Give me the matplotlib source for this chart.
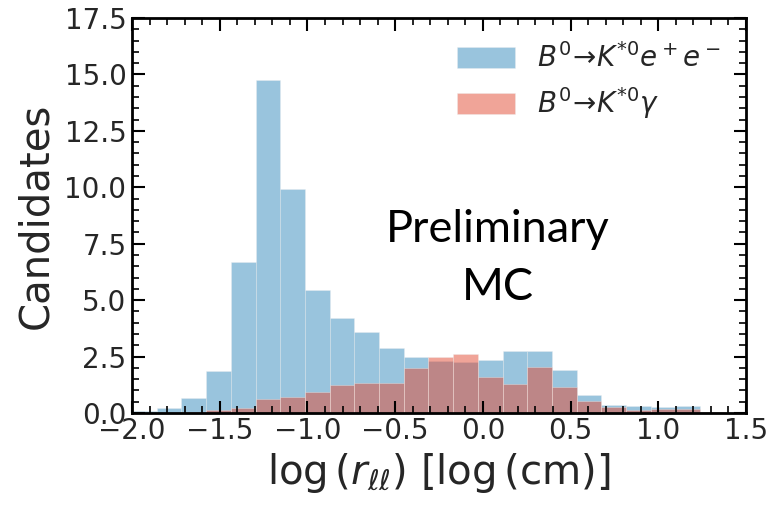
import matplotlib as mpl
import matplotlib.pyplot as plt
import numpy as np
from matplotlib.ticker import MultipleLocator

BLUE = '#348ABD'
RED = '#E24A33'
TEXT = '#262626'

# shared binning for both samples
edges = np.linspace(-2.0, 1.38, 25)
centers = 0.5 * (edges[:-1] + edges[1:])

ee_counts = [0.08, 0.20, 0.65, 1.85, 6.70, 14.77, 9.91, 5.46, 4.20, 3.60,
             2.87, 2.50, 2.30, 2.28, 2.35, 2.76, 2.76, 1.90, 0.80, 0.34,
             0.31, 0.25, 0.31, 0.05]
gamma_counts = [0.0, 0.0, 0.04, 0.13, 0.22, 0.62, 0.72, 0.93, 1.25, 1.31,
                1.31, 2.01, 2.50, 2.60, 1.58, 1.28, 2.05, 1.14, 0.55, 0.28,
                0.12, 0.16, 0.19, 0.05]

mpl.rcParams.update({
    "font.family": "DejaVu Sans",
    "mathtext.fontset": "dejavusans",
    "xtick.direction": "in",
    "ytick.direction": "in",
    "xtick.top": True,
    "ytick.right": True,
    "xtick.labelsize": 20,
    "ytick.labelsize": 20,
    "xtick.color": "black",
    "ytick.color": "black",
    "xtick.labelcolor": TEXT,
    "ytick.labelcolor": TEXT,
})

fig = plt.figure(figsize=(7.69, 5.05), dpi=100)
ax = fig.add_axes([0.1717, 0.1822, 0.7983, 0.7822])

hist_kw = dict(bins=edges, histtype='bar', alpha=0.5, edgecolor='#EEEEEE',
               linewidth=0.5, rwidth=1.0)
ax.hist(centers, weights=ee_counts, color=BLUE,
        label=r'$B^0\!\rightarrow\!K^{*0}e^+e^-$', **hist_kw)
ax.hist(centers, weights=gamma_counts, color=RED,
        label=r'$B^0\!\rightarrow\!K^{*0}\gamma$', **hist_kw)

ax.set_xlim(-2.0, 1.5)
ax.set_ylim(0, 17.5)
ax.xaxis.set_major_locator(MultipleLocator(0.5))
ax.xaxis.set_minor_locator(MultipleLocator(0.1))
ax.yaxis.set_major_locator(MultipleLocator(2.5))
ax.yaxis.set_minor_locator(MultipleLocator(0.5))
ax.tick_params(which='major', length=9, width=1.5)
ax.tick_params(which='minor', length=5, width=1.2)
ax.tick_params(axis='x', pad=3)
ax.tick_params(axis='y', pad=4)
for spine in ax.spines.values():
    spine.set_linewidth(2)
    spine.set_edgecolor('black')

ax.set_xlabel(r'log$\,(r_{\ell\ell})$ [log$\,$(cm)]', fontsize=29, color=TEXT,
              labelpad=4)
ax.set_ylabel('Candidates', fontsize=29, color=TEXT, labelpad=6)

leg = ax.legend(loc='upper right', frameon=False, fontsize=20,
                handlelength=2.1, handleheight=0.8, labelspacing=0.45,
                handletextpad=0.8, borderaxespad=0.5)
for t in leg.get_texts():
    t.set_color(TEXT)

ax.text(0.085, 6.85, 'Preliminary\nMC', fontsize=32.5, family='Lato',
        ha='center', va='center', linespacing=1.5, color='black')

fig.savefig('out.png', dpi=100)
